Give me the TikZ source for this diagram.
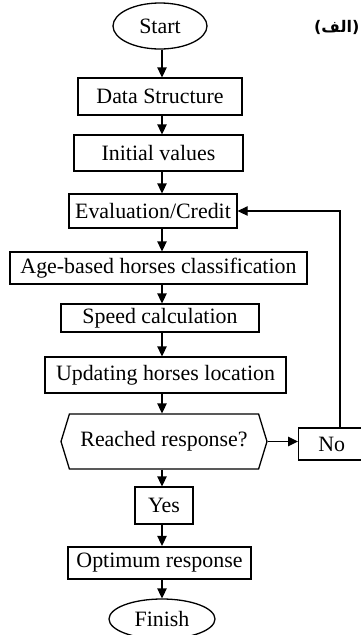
\documentclass[tikz,border=0pt]{standalone}
\usepackage{fontspec}
\setmainfont{Liberation Serif}
\newfontfamily\arabicfont[Script=Arabic]{DejaVu Sans}
\TeXXeTstate=1
\usetikzlibrary{shapes.geometric,shapes.symbols,arrows.meta}
\begin{document}
\begin{tikzpicture}[x=1pt, y=-1pt, line width=1.3pt,
        font=\fontsize{21.9}{24}\selectfont,
        box/.style = {draw, rectangle, inner sep=0pt, minimum height=35pt},
        term/.style = {draw, ellipse, inner sep=0pt},
        test/.style = {draw, signal, signal to=west and east, signal pointer angle=146, inner sep=0pt},
        arr/.style = {-{Triangle[length=10pt,width=9.5pt]}}]
    \useasboundingbox (0,0) rectangle (361,635);
    \node[term, minimum width=94pt, minimum height=46pt] (start) at (160,26) {Start};
    \node[box, minimum width=164pt, minimum height=37pt] (ds) [node distance=70.5pt, below of=start] {Data Structure};
    \node[box, minimum width=169pt, minimum height=36pt] (init) [node distance=56.5pt, below of=ds, xshift=-1.5pt] {Initial values};
    \node[box, minimum width=168pt, minimum height=34pt] (eval) [node distance=58pt, below of=init, xshift=-5.5pt] {Evaluation/Credit};
    \node[box, minimum width=297pt, minimum height=32pt] (age) [node distance=57pt, below of=eval, xshift=5.5pt] {Age-based horses classification};
    \node[box, minimum width=198pt, minimum height=28pt] (speed) [node distance=50pt, below of=age, xshift=1.5pt] {Speed calculation};
    \node[box, minimum width=241pt, minimum height=36pt] (update) [node distance=57pt, below of=speed, xshift=5.5pt] {Updating horses location};
    \node[test, minimum width=206pt, minimum height=55pt] (reached) [node distance=66.5pt, below of=update, xshift=-1.5pt] {Reached response?};
    \node[box, minimum width=66pt, minimum height=32pt, anchor=west] (no) at (298,444) {No};
    \node[box, minimum width=58pt, minimum height=37pt] (yes) [node distance=64pt, below of=reached] {Yes};
    \node[box, minimum width=183pt, minimum height=32pt, line width=2.3pt] (optimum) [node distance=57.5pt, below of=yes, xshift=-4.5pt] {Optimum response};
    \node[term, minimum width=106pt, minimum height=40pt] (finish) [node distance=56pt, below of=optimum, xshift=2.5pt] {Finish};
    \node[font=\arabicfont\bfseries\fontsize{16}{19}\selectfont, inner sep=0pt, anchor=east] (alef) at (360,27) {\beginR(الف)\endR};
    \coordinate (axis) at (162,0);
    \coordinate (back) at (340,0);
    \draw[arr] (start.south -| axis) -- (ds.north -| axis);
    \draw[arr] (ds.south -| axis) -- (init.north -| axis);
    \draw[arr] (init.south -| axis) -- (eval.north -| axis);
    \draw[arr] (eval.south -| axis) -- (age.north -| axis);
    \draw[arr] (age.south -| axis) -- (speed.north -| axis);
    \draw[arr] (speed.south -| axis) -- (update.north -| axis);
    \draw[arr] (update.south -| axis) -- (reached.north -| axis);
    \draw[arr] (reached.south -| axis) -- (yes.north -| axis);
    \draw[arr] (yes.south -| axis) -- (optimum.north -| axis);
    \draw[arr] (optimum.south -| axis) -- (finish.north -| axis);
    \draw[arr] (reached.east) -- (reached.east -| no.west);
    \draw[arr] (no.north -| back) |- (eval.east);
\end{tikzpicture}
\end{document}
